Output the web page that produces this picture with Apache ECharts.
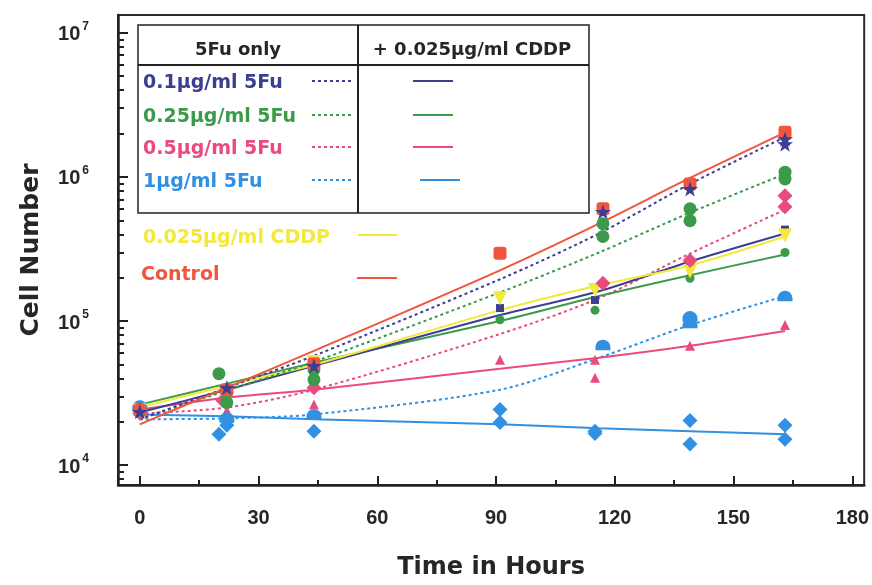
<!DOCTYPE html>
<html>
<head>
<meta charset="utf-8">
<script src="https://cdn.jsdelivr.net/npm/echarts@6/dist/echarts.min.js"></script>
<style>
  html, body { margin: 0; padding: 0; background: #fff; }
  #chart { width: 872px; height: 585px; }
</style>
</head>
<body>
<div id="chart"></div>
<script>
// axis ticks
const xTicks = [0, 30, 60, 90, 120, 150, 180];
const xMinorTicks = [15, 45, 75, 105, 135, 165];
const yTicks = [1e4, 1e5, 1e6, 1e7];
const yMinorTicks = [8e3, 9e3, 2e4, 3e4, 4e4, 5e4, 6e4, 7e4, 8e4, 9e4,
  2e5, 3e5, 4e5, 5e5, 6e5, 7e5, 8e5, 9e5, 2e6, 3e6, 4e6, 5e6, 6e6, 7e6, 8e6, 9e6];

// fitted curves (hours / cell number)
const fitHours = [0, 22, 44, 91, 116, 139, 163];
const fitControl = [1.92e4, 3.45e4, 6.21e4, 2.25e5, 4.74e5, 9.84e5, 2.04e6];
const fitFu01 = [2.08e4, 3.45e4, 5.74e4, 1.95e5, 4.05e5, 8.95e5, 1.89e6];
const fitFu025 = [2.08e4, 3.29e4, 5.21e4, 1.58e5, 2.99e5, 5.65e5, 1.05e6];
const fitFu05 = [2.28e4, 2.51e4, 3.34e4, 8.13e4, 1.44e5, 2.94e5, 5.92e5];
const fitFu1 = [2.08e4, 2.11e4, 2.25e4, 3.34e4, 5.56e4, 9.38e4, 1.49e5];
const fitCddp = [2.51e4, 3.56e4, 4.97e4, 1.19e5, 1.77e5, 2.43e5, 3.86e5];
const fitFu01C = [2.32e4, 3.34e4, 4.89e4, 1.10e5, 1.61e5, 2.59e5, 4.05e5];
const fitFu025C = [2.63e4, 3.68e4, 5.13e4, 1.00e5, 1.49e5, 2.08e5, 2.90e5];
const fitFu05C = [2.43e4, 2.94e4, 3.34e4, 4.67e4, 5.56e4, 6.73e4, 8.53e4];
const fitFu1C = [2.25e4, 2.18e4, 2.08e4, 1.92e4, 1.80e4, 1.72e4, 1.64e4];

// measured points
const ptControlH = [0, 22, 44, 91, 117, 139, 163];
const ptControl = [2.4e4, 3.34e4, 5.05e4, 2.95e5, 6.01e5, 8.95e5, 2.04e6];
const ptFu01H = [0, 22, 44, 117, 139, 163, 163];
const ptFu01 = [2.35e4, 3.45e4, 4.89e4, 5.74e5, 8.27e5, 1.83e6, 1.69e6];
const ptFu025H = [0, 20, 22, 22, 44, 44, 117, 117, 139, 139, 163, 163];
const ptFu025 = [2.45e4, 4.31e4, 3.19e4, 2.72e4, 4.59e4, 3.92e4, 4.74e5, 3.86e5, 6.01e5, 4.97e5, 1.08e6, 9.68e5];
const ptFu05H = [0, 21, 44, 117, 139, 163, 163];
const ptFu05 = [2.3e4, 2.81e4, 3.45e4, 1.83e5, 2.63e5, 7.39e5, 6.21e5];
const ptFu1H = [0, 22, 44, 117, 139, 139, 163];
const ptFu1 = [2.59e4, 2.14e4, 2.25e4, 6.83e4, 1.08e5, 9.69e4, 1.49e5];
const ptCddpH = [0, 22, 44, 91, 115, 139, 163];
const ptCddp = [2.4e4, 2.85e4, 5.2e4, 1.44e5, 1.64e5, 2.21e5, 3.92e5];
const ptFu01CH = [0, 22, 44, 91, 115, 139, 163];
const ptFu01C = [2.3e4, 3.3e4, 4.8e4, 1.23e5, 1.40e5, 2.39e5, 4.31e5];
const ptFu025CH = [0, 22, 44, 91, 115, 139, 163];
const ptFu025C = [2.5e4, 3.0e4, 4.6e4, 1.02e5, 1.19e5, 1.98e5, 2.99e5];
const ptFu05CH = [0, 22, 44, 91, 115, 115, 139, 163];
const ptFu05C = [2.32e4, 2.39e4, 2.63e4, 5.38e4, 5.38e4, 4.04e4, 6.73e4, 9.38e4];
const ptFu1CH = [0, 20, 22, 44, 91, 91, 115, 115, 139, 139, 163, 163];
const ptFu1C = [2.5e4, 1.64e4, 1.89e4, 1.72e4, 2.43e4, 1.98e4, 1.72e4, 1.66e4, 2.04e4, 1.40e4, 1.89e4, 1.51e4];

const C = {
  navy: '#3b3e92', green: '#3c9b4b', pink: '#ea4b7e',
  blue: '#3190e2', yellow: '#f2e93a', red: '#f1553e', ink: '#262626'
};
const FONT = '"Liberation Sans", Arial, sans-serif';
const WIDE = '"DejaVu Sans", sans-serif';
const STAR = 'path://M50,0 L61,35 L98,35 L68,57 L79,91 L50,70 L21,91 L32,57 L2,35 L39,35 Z';
const DOME = 'path://M0,60 A50,50 0 0 1 100,60 L100,80 L0,80 Z';

function fitSeries(vals, color, dashed) {
  return {
    type: 'line', xAxisIndex: 0, yAxisIndex: 0,
    data: fitHours.map((h, i) => [h, vals[i]]),
    showSymbol: false, smooth: 0.3, silent: true, z: 2,
    lineStyle: { color: color, width: 2, type: dashed ? [3, 3] : 'solid' }
  };
}
function ptSeries(hours, vals, color, symbol, size, rotate) {
  return {
    type: 'scatter', xAxisIndex: 0, yAxisIndex: 0,
    data: hours.map((h, i) => [h, vals[i]]),
    symbol: symbol, symbolSize: size, symbolRotate: rotate || 0, symbolKeepAspect: true,
    itemStyle: { color: color, opacity: 1 }, z: 3
  };
}
function txt(x, y, s, color, size, align) {
  return { type: 'text', x: x, y: y, z: 100,
    style: { text: s, fontSize: size, fontWeight: 'bold', fontFamily: WIDE, fill: color,
      align: align || 'left', verticalAlign: 'middle' } };
}
function seg(x1, y1, x2, y2, color, dash) {
  return { type: 'line', shape: { x1: x1, y1: y1, x2: x2, y2: y2 }, z: 100,
    style: { stroke: color, lineWidth: 2, lineDash: dash ? [3, 3] : null } };
}

const chart = echarts.init(document.getElementById('chart'));

// legend drawn as a table like the original
const legendRows = [
  { text: '0.1µg/ml 5Fu', color: C.navy, y: 83 },
  { text: '0.25µg/ml 5Fu', color: C.green, y: 117 },
  { text: '0.5µg/ml 5Fu', color: C.pink, y: 149 },
  { text: '1µg/ml 5Fu', color: C.blue, y: 182 }
];
const graphics = [
  { type: 'rect', shape: { x: 138, y: 25, width: 451, height: 188 },
    style: { fill: 'transparent', stroke: '#222', lineWidth: 1.5 }, z: 100 },
  seg(138, 65, 589, 65, '#222'),
  seg(358, 25, 358, 213, '#222'),
  txt(238, 50, '5Fu only', C.ink, 18, 'center'),
  txt(472, 50, '+ 0.025µg/ml CDDP', C.ink, 18, 'center'),
  txt(143, 238, '0.025µg/ml CDDP', C.yellow, 19),
  seg(358, 235, 397, 235, C.yellow),
  txt(141, 275, 'Control', C.red, 19),
  seg(357, 278, 397, 278, C.red)
];
legendRows.forEach((r, i) => {
  const sx = i === 3 ? 420 : 413;
  graphics.push(txt(143, r.y, r.text, r.color, 19));
  graphics.push(seg(312, r.y - 2, 353, r.y - 2, r.color, true));
  graphics.push(seg(sx, r.y - 2, sx + 40, r.y - 2, r.color));
});

chart.setOption({
  animation: false,
  backgroundColor: '#fff',
  grid: { left: 118, right: 7, top: 15, bottom: 97, show: true, borderColor: '#2a2a2a', borderWidth: 2 },
  xAxis: [{
    type: 'value', min: -5.5, max: 183,
    axisLine: { show: true, onZero: false, lineStyle: { color: '#222', width: 2.5 } },
    axisTick: { show: true, inside: true, length: 9, customValues: xTicks, lineStyle: { color: '#222', width: 2 } },
    axisLabel: { customValues: xTicks, margin: 23, fontSize: 20, fontWeight: 'bold', color: C.ink, fontFamily: FONT },
    splitLine: { show: false },
    name: 'Time in Hours', nameLocation: 'middle', nameGap: 71,
    nameTextStyle: { fontSize: 24, fontWeight: 'bold', color: C.ink, fontFamily: WIDE }
  }, {
    type: 'value', min: -5.5, max: 183, position: 'bottom',
    axisLine: { show: false, onZero: false },
    axisTick: { show: true, inside: true, length: 5, customValues: xMinorTicks, lineStyle: { color: '#222', width: 2 } },
    axisLabel: { show: false }, splitLine: { show: false }
  }],
  yAxis: [{
    type: 'log', logBase: 10, min: 7280, max: 1.33e7,
    axisLine: { show: true, onZero: false, lineStyle: { color: '#222', width: 2.5 } },
    axisTick: { show: true, inside: true, length: 10, customValues: yTicks, lineStyle: { color: '#222', width: 2 } },
    axisLabel: {
      customValues: yTicks, margin: 29,
      formatter: v => '{b|10}{s|' + Math.round(Math.log10(v)) + '}',
      rich: {
        b: { fontSize: 20, fontWeight: 'bold', color: C.ink, fontFamily: FONT, lineHeight: 24, padding: [4, 0, 0, 0] },
        s: { fontSize: 12, fontWeight: 'bold', color: C.ink, fontFamily: FONT, verticalAlign: 'top', lineHeight: 24, padding: [0, 0, 0, 2] }
      }
    },
    splitLine: { show: false },
    name: 'Cell Number', nameLocation: 'middle', nameGap: 74,
    nameTextStyle: { fontSize: 25, fontWeight: 'bold', color: C.ink, fontFamily: WIDE }
  }, {
    type: 'log', logBase: 10, min: 7280, max: 1.33e7, position: 'left',
    axisLine: { show: false, onZero: false },
    axisTick: { show: true, inside: true, length: 6, customValues: yMinorTicks, lineStyle: { color: '#222', width: 2 } },
    axisLabel: { show: false }, splitLine: { show: false }
  }],
  graphic: graphics,
  series: [
    fitSeries(fitFu1C, C.blue, false),
    fitSeries(fitFu1, C.blue, true),
    fitSeries(fitFu05C, C.pink, false),
    fitSeries(fitFu05, C.pink, true),
    fitSeries(fitFu025C, C.green, false),
    fitSeries(fitFu01C, C.navy, false),
    fitSeries(fitCddp, C.yellow, false),
    fitSeries(fitFu025, C.green, true),
    fitSeries(fitFu01, C.navy, true),
    fitSeries(fitControl, C.red, false),
    ptSeries(ptFu1CH, ptFu1C, C.blue, 'diamond', 15),
    ptSeries(ptFu05CH, ptFu05C, C.pink, 'triangle', 10),
    ptSeries(ptFu1H, ptFu1, C.blue, DOME, 15),
    ptSeries(ptFu025CH, ptFu025C, C.green, 'circle', 9),
    ptSeries(ptFu01CH, ptFu01C, C.navy, 'rect', 8),
    ptSeries(ptCddpH, ptCddp, C.yellow, 'triangle', 14, 180),
    ptSeries(ptFu05H, ptFu05, C.pink, 'diamond', 15),
    ptSeries(ptFu025H, ptFu025, C.green, 'circle', 13),
    ptSeries(ptControlH, ptControl, C.red, 'roundRect', 13),
    ptSeries(ptFu01H, ptFu01, C.navy, STAR, 16)
  ]
});
</script>
</body>
</html>
